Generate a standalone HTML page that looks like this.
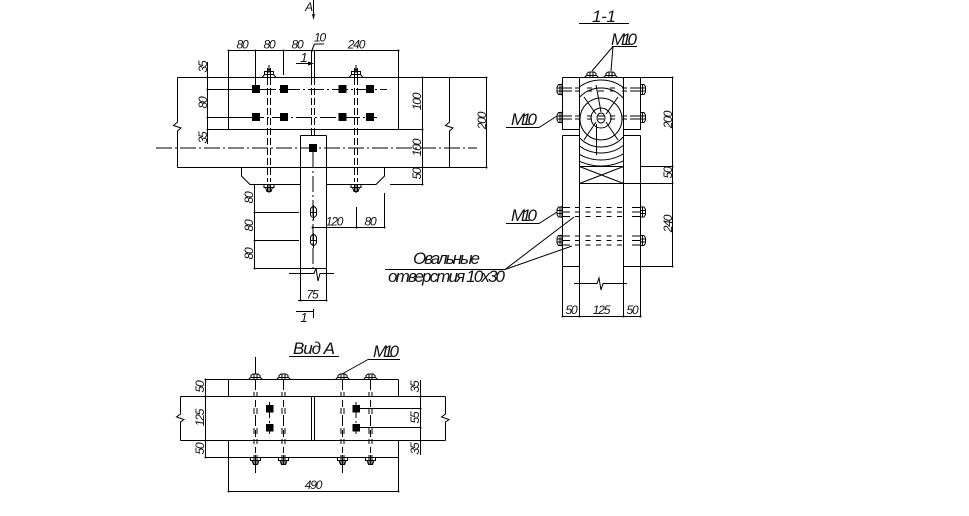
<!DOCTYPE html>
<html><head><meta charset="utf-8">
<style>
html,body{margin:0;padding:0;background:#fff}
svg{display:block}
text{font-family:"Liberation Sans",sans-serif;font-style:italic;fill:#111}
.s{font-size:12px;letter-spacing:-1.2px;text-anchor:middle}
.b{font-size:17px;letter-spacing:-1px}
g.l,.l line,.l path{stroke:#000;stroke-width:1;fill:none}
.cl{stroke-dasharray:16 3 2 3}
.d{stroke-dasharray:7 3}
</style></head><body>
<svg width="969" height="516" viewBox="0 0 969 516" xmlns="http://www.w3.org/2000/svg">
<defs>
<g id="bt" stroke="#000" fill="none" stroke-width="1"><path d="M-7 3.500L-4.500 .5H4.500L7 3.500H-7M-4.500 .5V-2.500H4.500V.5M-2 -2.500L0 -5.500L2 -2.500M-1.500 -2.500V3.500M1.500 -2.500V3.500"/></g>
<g id="bt2" stroke="#000" fill="none" stroke-width="1"><path d="M-7 3.500L-5 1.500H5L7 3.500H-7M-4.500 1.500V-.5L-2.500 -2H2.500L4.500 -.5V1.500M-1.500 -2V3.500M1.500 -2V3.500"/></g>
<g id="bb" stroke="#000" fill="none" stroke-width="1"><path d="M-7 -3.500H7M-5 -3.500V-.5H5V-3.500M-3.500 -.5L-2 3.500H2L3.500 -.5M-1.500 -3.500V3.500M1.500 -3.500V3.500"/></g>
<g id="bs" stroke="#000" fill="none" stroke-width="1"><path d="M0 -6V6M0 -5H3.500L5 -2.500V2.500L3.500 5H0M0 -1.500H5.500M0 1.500H5.500M2 -5V5"/></g>
<g id="va" stroke="#000" fill="none" stroke-width="1"><path d="M-1.500 -26V-21M1.500 -26V-21M-1.500 -10V-4M1.500 -10V-4M-1.500 10V16M1.500 10V16M-1.500 21V26M1.500 21V26M-1.500 37V44M1.500 37V44M0 -38V-28M0 -18V-11M0 -3V8M0 12V19M0 29V35"/></g>
<g id="ds" stroke="#000" stroke-width="1" fill="none"><path d="M-39 -1.500H-29M-39 1.500H-29M-26 -1.500H-21M-26 1.500H-21M-14 -1.500H-9M-14 1.500H-9M-3 -1.500H3M-3 1.500H3M9 -1.500H14M9 1.500H14M21 -1.500H26M21 1.500H26M29 -1.500H39M29 1.500H39"/></g>
<g id="ds3" stroke="#000" stroke-width="1" fill="none"><path d="M-39 -4.500H-31M-39 0H-31M-39 4.500H-31M31 -4.500H39M31 0H39M31 4.500H39"/><path stroke-dasharray="5 5.500" d="M-26 -4.500H26M-26 0H26M-26 4.500H26"/></g>
<clipPath id="log"><rect x="579" y="77" width="44.500" height="89"/></clipPath>
</defs>

<g class="l" stroke="#000" fill="none">
<!-- TOP VIEW -->
<path d="M177.500 77.500H486.500M177.500 167.500H486.500M177.500 77.500V122L173.500 125.500L181 128L177.500 131V167.500M228.500 77.500V129.500H398.500V77.500M207.500 129.500H422.500M300.500 135.500H326.500M300.500 135.500V300M326.500 135.500V300"/>
<path d="M241.500 167.500V176L250 184.500H300.500M326.500 184.500H376L384.500 176V167.500M390 184.500H422.500"/>
<path d="M449.500 77.500V122L445.500 125.500L453 128L449.500 131V167.500M422.500 77.500V184.500M486.500 77.500V167.500"/>
<path class="cl" d="M156 148H477"/>
<path d="M207.500 62V144M207.500 89.500H252M207.500 117.500H248M207.500 77.500H228"/>
<path class="cl" d="M260 89.500H387M248 117.500H377"/>
<path d="M228.500 50.500V77.500M255.500 50.500V85M283.500 50.500V75M398.500 50.500V77.500M228.500 50.500H398.500M314.500 44H324M314.500 44L312 50"/>
<path d="M313.500 0V18"/>
<path d="M296 63.500H312"/>
<path d="M311.500 50V77M314.500 50V77"/>
<path class="d" d="M311.500 78V135M314.500 78V135"/>
<path class="cl" d="M313 152V272"/>
<path class="d" d="M267.500 68V182M270.500 68V182M354.500 68V182M357.500 68V182"/>
<path d="M269 65V73M356 65V73M269 184V193M356 184V193"/>
<use href="#bt" x="269" y="74"/><use href="#bt" x="356" y="74"/>
<use href="#bb" x="269" y="188"/><use href="#bb" x="356" y="188"/>
<path d="M254.500 184.500V268.500M254.500 212.500H299M254.500 240.500H299M254.500 268.500H300"/>
<path d="M312 227.500H385M356.500 207V227.500M384.500 193V227.500"/>
<path d="M289 273.500H314L316 268L318 281L320 273.500H334M300.500 268.500H326.500M298 300.500H327M296 311.500H313M313.500 309V318"/>
<path d="M310.500 209Q313.500 204 316.500 209V215Q313.500 220 310.500 215ZM310.500 237Q313.500 232 316.500 237V243Q313.500 248 310.500 243ZM313.500 205V220M313.500 233V248M310 212.500H317M310 240.500H317"/>

<!-- RIGHT VIEW -->
<path d="M562.500 77.500H623.500M623.500 77.500H672.500M562.500 77.500V129.500H579.500M623.500 129.500H640.500V77.500M562.500 135.500H579.500M623.500 135.500H640.500M562.500 135.500V316M640.500 135.500V316M579.500 77.500V316M623.500 77.500V316M562.500 266.500H579.500M623.500 266.500H672.500M640.500 166.500H672.500M623.500 183.500H672.500M672.500 77.500V266.500M579.500 166.500H623.500M579.500 183.500H623.500M579.500 166.500L623.500 183.500M623.500 166.500L579.500 183.500"/>
<path d="M574 283.500H597L599 278L601 290L603 283.500H627M562 316.500H640"/>
<g clip-path="url(#log)">
<circle cx="601" cy="118" r="10"/><circle cx="601" cy="119" r="21"/><circle cx="601" cy="117.500" r="29.500"/><circle cx="601" cy="116.500" r="36.500"/><circle cx="601" cy="116" r="44"/><circle cx="601" cy="115" r="51"/>
<path d="M596 114L584 97M606 114L618 97M596 122L584 140M606 122L618 140M596.500 124V155M601 112L596 85"/>
</g>
<ellipse cx="601" cy="118" rx="4" ry="5"/>
<use href="#ds" x="601" y="89.500"/><use href="#ds" x="601" y="117.500"/>
<use href="#ds3" x="601" y="212"/><use href="#ds3" x="601" y="240.500"/>
<use href="#bs" transform="translate(562 89.500) rotate(180)"/><use href="#bs" transform="translate(562 117.500) rotate(180)"/><use href="#bs" transform="translate(562 212) rotate(180)"/><use href="#bs" transform="translate(562 240.500) rotate(180)"/>
<use href="#bs" x="640.500" y="89.500"/><use href="#bs" x="640.500" y="117.500"/><use href="#bs" x="640.500" y="212"/><use href="#bs" x="640.500" y="240.500"/>
<use href="#bt2" x="591.500" y="74"/><use href="#bt2" x="610.500" y="74"/>
<path d="M579 23.500H629M612 46.500H637M613 46.500L592 71M613 46.500L611 71M506 127.500H539L557 116M506 223.500H539L557 212M385 269.500H505M505 269.500L574 217M505 269.500L572 246"/>

<!-- VIEW A -->
<path d="M228.500 379.500H398.500M205.500 379.500H228.500M228.500 379.500V396.500M398.500 379.500V396.500M180.500 396.500H445.500M180.500 440.500H445.500M180.500 396.500V414L176.500 417L184 419.500L180.500 422V440.500M445.500 396.500V414L441.500 417L449 419.500L445.500 422V440.500M228.500 440.500V491.500M398.500 440.500V491.500M205.500 457.500H398.500M205.500 379.500V457.500M228.500 491.500H398.500M311.500 396.500V440.500M314.500 396.500V440.500"/>
<path d="M420.500 380V455M356 408.500H420.500M356 427.500H420.500M398.500 396.500H420.500M398.500 440.500H420.500"/>
<path class="cl" d="M269.500 402V434M356 402V434"/>
<use href="#va" x="255.500" y="418"/><use href="#va" x="283.500" y="418"/><use href="#va" x="342.500" y="418"/><use href="#va" x="370.500" y="418"/>
<path d="M255.500 357V374M255.500 455V473M283.500 455V464M342.500 455V473M370.500 455V464"/>
<use href="#bt2" x="255.500" y="376"/><use href="#bt2" x="283.500" y="376"/><use href="#bt2" x="342.500" y="376"/><use href="#bt2" x="370.500" y="376"/>
<use href="#bb" x="255.500" y="461"/><use href="#bb" x="283.500" y="461"/><use href="#bb" x="342.500" y="461"/><use href="#bb" x="370.500" y="461"/>
<path d="M289 356.500H339M368 359.500H400M368 359.500L342 374"/>
</g>

<!-- squares -->
<g fill="#000">
<rect x="252" y="85" width="8" height="8"/><rect x="280" y="85" width="8" height="8"/><rect x="338.500" y="85" width="8" height="8"/><rect x="366" y="85" width="8" height="8"/>
<rect x="252" y="113" width="8" height="8"/><rect x="280" y="113" width="8" height="8"/><rect x="338.500" y="113" width="8" height="8"/><rect x="366" y="113" width="8" height="8"/>
<rect x="309" y="144" width="8" height="8"/>
<rect x="266" y="405" width="7.500" height="7.500"/><rect x="266" y="424" width="7.500" height="7.500"/><rect x="352.500" y="405" width="7.500" height="7.500"/><rect x="352.500" y="424" width="7.500" height="7.500"/>
<path d="M313.500 20L312 14H315L313.500 20Z"/>
<path d="M314 63.500L308 61.500V65.500Z"/>
<circle cx="228.500" cy="50.500" r="1"/><circle cx="255.500" cy="50.500" r="1"/><circle cx="283.500" cy="50.500" r="1"/><circle cx="312.500" cy="50.500" r="1"/><circle cx="398.500" cy="50.500" r="1"/>
<circle cx="207.500" cy="77.500" r="1"/><circle cx="207.500" cy="89.500" r="1"/><circle cx="207.500" cy="117.500" r="1"/><circle cx="207.500" cy="129.500" r="1"/>
<circle cx="422.500" cy="77.500" r="1"/><circle cx="422.500" cy="129.500" r="1"/><circle cx="422.500" cy="167.500" r="1"/><circle cx="422.500" cy="184.500" r="1"/>
<circle cx="486.500" cy="77.500" r="1"/><circle cx="486.500" cy="167.500" r="1"/>
<circle cx="254.500" cy="212.500" r="1"/><circle cx="254.500" cy="240.500" r="1"/><circle cx="254.500" cy="268.500" r="1"/>
<circle cx="312.500" cy="227.500" r="1"/><circle cx="356.500" cy="227.500" r="1"/><circle cx="384.500" cy="227.500" r="1"/><circle cx="300.500" cy="300.500" r="1"/><circle cx="326.500" cy="300.500" r="1"/>
<circle cx="672.500" cy="77.500" r="1"/><circle cx="672.500" cy="166.500" r="1"/><circle cx="672.500" cy="183.500" r="1"/><circle cx="672.500" cy="266.500" r="1"/>
<circle cx="562.500" cy="316.500" r="1"/><circle cx="579.500" cy="316.500" r="1"/><circle cx="623.500" cy="316.500" r="1"/><circle cx="640.500" cy="316.500" r="1"/>
<circle cx="205.500" cy="379.500" r="1"/><circle cx="205.500" cy="396.500" r="1"/><circle cx="205.500" cy="440.500" r="1"/><circle cx="205.500" cy="457.500" r="1"/>
<circle cx="420.500" cy="396.500" r="1"/><circle cx="420.500" cy="408.500" r="1"/><circle cx="420.500" cy="427.500" r="1"/><circle cx="420.500" cy="440.500" r="1"/>
<circle cx="228.500" cy="491.500" r="1"/><circle cx="398.500" cy="491.500" r="1"/>
</g>

<!-- text -->
<text class="s" x="308.500" y="11">А</text>
<text class="s" x="242" y="48.500">80</text><text class="s" x="269" y="48.500">80</text><text class="s" x="297" y="48.500">80</text><text class="s" x="319.500" y="41.500">10</text><text class="s" x="356" y="48.500">240</text>
<text x="304" y="62" style="font-size:13px;text-anchor:middle">1</text>
<text x="304" y="322" style="font-size:13px;text-anchor:middle">1</text>
<text class="s" transform="translate(207 67) rotate(-90)">35</text>
<text class="s" transform="translate(207 103) rotate(-90)">80</text>
<text class="s" transform="translate(207 138) rotate(-90)">35</text>
<text class="s" transform="translate(421 102) rotate(-90)">100</text>
<text class="s" transform="translate(421 148) rotate(-90)">100</text>
<text class="s" transform="translate(421 174) rotate(-90)">50</text>
<text class="s" transform="translate(486 121) rotate(-90)">200</text>
<text class="s" transform="translate(253 198) rotate(-90)">80</text>
<text class="s" transform="translate(253 226) rotate(-90)">80</text>
<text class="s" transform="translate(253 254) rotate(-90)">80</text>
<text class="s" x="334" y="225.500">120</text><text class="s" x="370" y="225.500">80</text><text class="s" x="312" y="298.500">75</text>
<text class="b" x="592" y="22" textLength="23" lengthAdjust="spacing">1-1</text>
<text class="b" x="611" y="45" textLength="25" lengthAdjust="spacing">М10</text>
<text class="b" x="511" y="125" textLength="25" lengthAdjust="spacing">М10</text>
<text class="b" x="511" y="221" textLength="25" lengthAdjust="spacing">М10</text>
<text class="b" x="373" y="357" textLength="25" lengthAdjust="spacing">М10</text>
<text class="b" x="413" y="264" textLength="66" lengthAdjust="spacing">Овальные</text>
<text class="b" x="388" y="282" textLength="116" lengthAdjust="spacing">отверстия 10х30</text>
<text class="b" x="293" y="354" textLength="41" lengthAdjust="spacing">Вид А</text>
<text class="s" transform="translate(672 120) rotate(-90)">200</text>
<text class="s" transform="translate(672 173) rotate(-90)">50</text>
<text class="s" transform="translate(672 224) rotate(-90)">240</text>
<text class="s" x="571" y="314">50</text><text class="s" x="601" y="314">125</text><text class="s" x="632" y="314">50</text>
<text class="s" transform="translate(204 387) rotate(-90)">50</text>
<text class="s" transform="translate(204 418) rotate(-90)">125</text>
<text class="s" transform="translate(204 449) rotate(-90)">50</text>
<text class="s" transform="translate(419 387) rotate(-90)">35</text>
<text class="s" transform="translate(419 418) rotate(-90)">55</text>
<text class="s" transform="translate(419 449) rotate(-90)">35</text>
<text class="s" x="313" y="489">490</text>
</svg>
</body></html>
